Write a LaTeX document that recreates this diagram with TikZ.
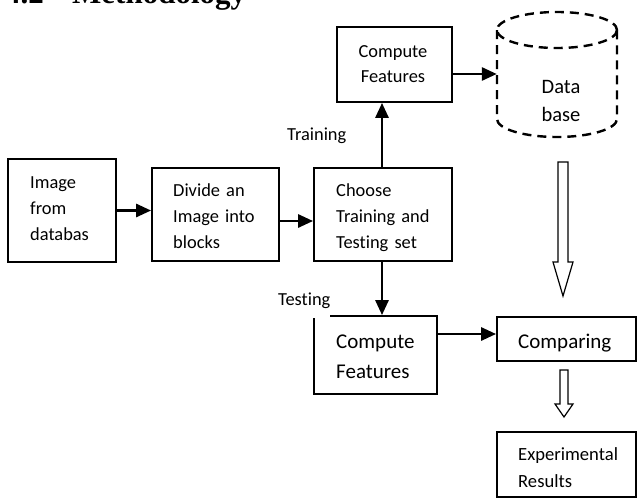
\documentclass[tikz,border=0pt]{standalone}
\usepackage{fontspec}
\setmainfont{Carlito}[Ligatures=NoCommon]
\newfontfamily\headfont{Liberation Serif}
\usetikzlibrary{arrows.meta,calc}
\begin{document}
\begin{tikzpicture}[x=1pt,y=-1pt,
  box/.style={draw, line width=1.8pt, inner sep=0pt},
  txt/.style={inner sep=0pt, anchor=base west, align=left, text width=#1},
  arr/.style={line width=2.8pt, -{Triangle[length=15pt,width=13pt]}},
  hollow/.style={draw, line width=1.2pt, fill=white, line join=miter},
  fA/.style={font=\fontsize{18.4pt}{26pt}\selectfont},
  fB/.style={font=\fontsize{21pt}{30pt}\selectfont}]
\clip (0,0) rectangle (637,498);
\fill[white] (0,0) rectangle (637,498);
% heading (cut off at the top)
\node[inner sep=0pt, anchor=base east, font=\headfont\bfseries\fontsize{31pt}{36pt}\selectfont] (hnum) at (44,3) {4.2};
\node[inner sep=0pt, anchor=base west, font=\headfont\bfseries\fontsize{31pt}{36pt}\selectfont] (htit) at (72,3) {Methodology};
% boxes
\node[box, minimum width=108pt, minimum height=103pt] (img) at (62,210.5) {};
\node[box, minimum width=127pt, minimum height=93pt] (div) at (215.5,214.5) {};
\node[box, minimum width=138pt, minimum height=93pt] (cho) at (383,214.5) {};
\node[box, minimum width=115pt, minimum height=75pt] (cfa) at (394.5,64.5) {};
\node[box, minimum width=123pt, minimum height=78pt] (cfb) at (375.5,355) {};
\node[box, minimum width=139pt, minimum height=44pt] (cmp) at (566.5,339) {};
\node[box, minimum width=139pt, minimum height=65pt] (exp) at (566.5,464.5) {};
\fill[white] (312,313) rectangle (330,317.6);
% database cylinder
\node[inner sep=0pt, minimum width=120pt, minimum height=125pt] (db) at (557,75) {};
\draw[line width=2.4pt, dash pattern=on 9pt off 6pt] (557,30) ellipse (60 and 18);
\draw[line width=2.4pt, dash pattern=on 9pt off 6pt] (497,30) -- (497,119) arc (180:0:60 and 18) -- (617,30);
% texts
\node[txt=80pt, fA] (timg) at (30,188) {Image\\from\\databas};
\node[txt=100pt, fA] (tdiv) at (173,196) {Divide an\\Image into\\blocks};
\node[txt=110pt, fA] (tcho) at (336,196) {Choose\\Training and\\Testing set};
\node[inner sep=0pt, anchor=base, align=center, text width=110pt, font=\fontsize{18.4pt}{25pt}\selectfont] (tcfa) at (393,57) {Compute\\Features};
\node[txt=100pt, fB] (tcfb) at (336,348) {Compute\\Features};
\node[txt=110pt, fB] (tcmp) at (518,348) {Comparing};
\node[txt=115pt, font=\fontsize{18.6pt}{27pt}\selectfont] (texp) at (518,460) {Experimental\\Results};
\node[inner sep=0pt, anchor=base, align=center, text width=80pt, font=\fontsize{20.5pt}{28pt}\selectfont] (tdb) at (561,93) {Data\\base};
\node[inner sep=0pt, anchor=base west, fA] (ltr) at (287,140) {Training};
\node[inner sep=0pt, anchor=base west, fA] (lte) at (278,305) {Testing};
% connectors
\draw[arr] (img.east) -- (img.east -| div.west);
\draw[arr] ([yshift=-6.5pt]div.east) -- ([yshift=-6.5pt]div.east -| cho.west);
\draw[arr] ([xshift=-1pt]cho.north) -- ([xshift=-1pt]cho.north |- cfa.south);
\draw[arr] ([yshift=-9.5pt]cfa.east) -- ([yshift=-9.5pt]cfa.east -| db.west);
\draw[arr] ([xshift=-1pt]cho.south) -- ([xshift=-1pt]cho.south |- cfb.north);
\draw[arr] ([yshift=21pt]cfb.east) -- ([yshift=21pt]cfb.east -| cmp.west);
% hollow arrows
\path[hollow] (558,162) -- (568,162) -- (568,262) -- (573,262) -- (563,296) -- (553,262) -- (558,262) -- cycle;
\path[hollow] (560,370) -- (568,370) -- (568,404) -- (573,404) -- (564,417) -- (555,404) -- (560,404) -- cycle;
\end{tikzpicture}
\end{document}
